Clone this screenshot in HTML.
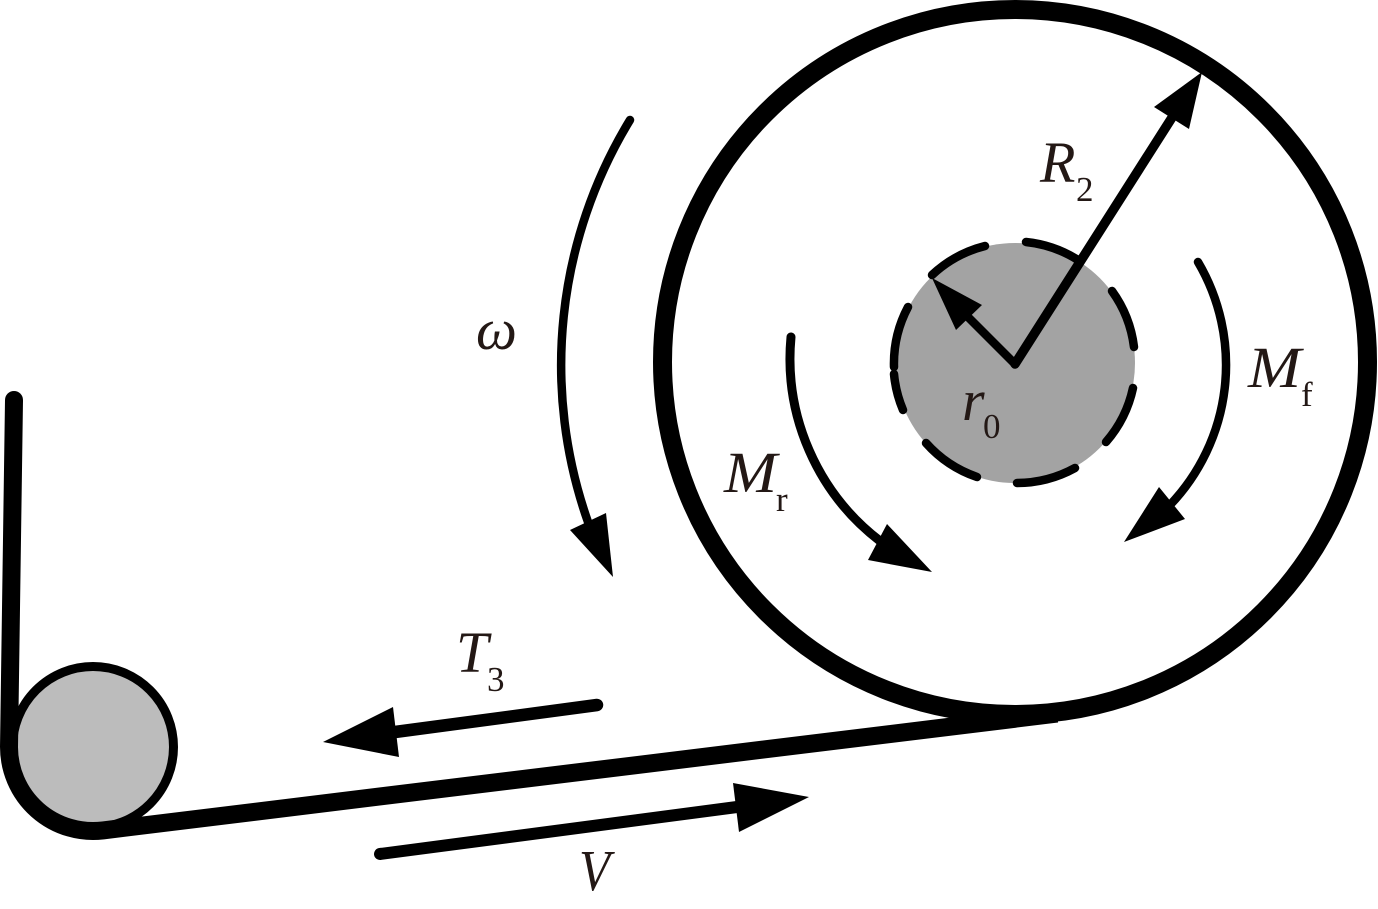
<!DOCTYPE html>
<html><head><meta charset="utf-8"><style>
html,body{margin:0;padding:0;background:#fff}
svg{display:block}
text{font-family:"Liberation Serif",serif;fill:#231815}
.i{font-style:italic;font-size:58px}
.s{font-size:35px}
</style></head><body>
<svg width="1378" height="909" viewBox="0 0 1378 909" xmlns="http://www.w3.org/2000/svg">
<rect width="1378" height="909" fill="#fff"/>
<circle cx="1015" cy="363" r="120" fill="#a3a3a3"/>
<circle cx="1015" cy="362" r="352.500" fill="none" stroke="#000" stroke-width="19"/>
<circle cx="93" cy="747" r="80.500" fill="#bcbcbc" stroke="#000" stroke-width="9"/>
<path d="M14,400 L9,747 A84,84 0 0 0 103,830.400 L1057,713.600" fill="none" stroke="#000" stroke-width="18"/>
<circle cx="14" cy="400" r="9" fill="#000"/>
<g fill="none" stroke="#000" stroke-width="8.500" stroke-linecap="round">
<path d="M932,275 A121,121 0 0 1 985,246"/>
<path d="M1026,242 A121,121 0 0 1 1078,260"/>
<path d="M1112,291 A121,121 0 0 1 1134,347"/>
<path d="M1133,388 A121,121 0 0 1 1106,442"/>
<path d="M1075,468 A121,121 0 0 1 1017,483"/>
<path d="M977,477 A121,121 0 0 1 926,443"/>
<path d="M903,410 A121,121 0 0 1 894,374"/>
<path d="M894,367 A121,121 0 0 1 908,307"/>
<path d="M1015,364 L1180,105" stroke-width="9.500"/>
<path d="M1015,364 L960,309" stroke-width="8.500"/>
<path d="M630,120 A471,471 0 0 0 588,522" stroke-width="8.500"/>
<path d="M791,337 A230,230 0 0 0 880,541" stroke-width="9"/>
<path d="M1198,262 A203,203 0 0 1 1170,505" stroke-width="8.500"/>
<path d="M597,705 L395,732" stroke-width="12.500"/>
<path d="M380,854 L737,807" stroke-width="12"/>
</g>
<g fill="#000">
<polygon points="1202,72 1154,107 1189,129"/>
<polygon points="932,278 982,305 956,330"/>
<polygon points="613,577 570,530 606,513"/>
<polygon points="932,572 887,524 868,560"/>
<polygon points="1124,542 1159,487 1185,519"/>
<polygon points="323,742 393,707 399,757"/>
<polygon points="809,797 733,783 739,832"/>
</g>
<text class="i" x="476" y="349">ω</text>
<text class="i" x="1040" y="182">R</text><text class="s" x="1076" y="201">2</text>
<text class="i" x="724" y="492" textLength="53" lengthAdjust="spacingAndGlyphs">M</text><text class="s" x="776" y="511">r</text>
<text class="i" x="1248" y="387" textLength="53" lengthAdjust="spacingAndGlyphs">M</text><text class="s" x="1301" y="406">f</text>
<text class="i" x="962" y="420">r</text><text class="s" x="983" y="438">0</text>
<text class="i" x="456" y="672">T</text><text class="s" x="487" y="691">3</text>
<text class="i" x="579" y="890" textLength="31" lengthAdjust="spacingAndGlyphs">V</text>
</svg>
</body></html>
